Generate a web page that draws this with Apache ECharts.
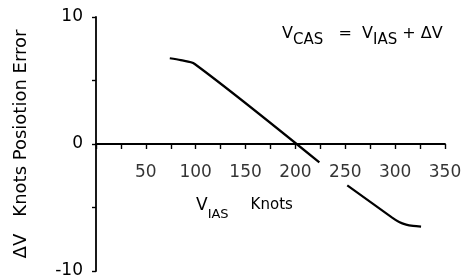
<!DOCTYPE html>
<html>
<head>
<meta charset="utf-8">
<script src="https://cdn.jsdelivr.net/npm/echarts@6/dist/echarts.min.js"></script>
<style>
html,body{margin:0;padding:0;background:#fff;}
#chart{width:461px;height:279px;}
</style>
</head>
<body>
<div id="chart"></div>
<script>
// Data
var speedSeg1 = [74, 85, 99, 224];
var errSeg1 = [6.75, 6.6, 6.3, -1.45];
var speedSeg2 = [252, 297, 304, 311, 318, 326];
var errSeg2 = [-3.25, -5.8, -6.15, -6.35, -6.45, -6.5];
var xTicks = [50, 100, 150, 200, 250, 300, 350];
var yTickLabels = [-10, 0, 10];

function pairs(xs, ys) { return xs.map(function (x, i) { return [x, ys[i]]; }); }

var FONT = 'DejaVu Sans';
var chart = echarts.init(document.getElementById('chart'), null, { renderer: 'canvas' });
chart.setOption({
  animation: false,
  backgroundColor: '#fff',
  grid: { left: 96, right: 16, top: 17, bottom: 8, containLabel: false, outerBoundsMode: 'none' },
  xAxis: {
    type: 'value', min: 0, max: 350, interval: 25,
    axisLine: { onZero: true, lineStyle: { color: '#000', width: 1.8 } },
    axisTick: { show: true, length: 5, lineStyle: { color: '#000', width: 1.4 } },
    axisLabel: { show: false },
    splitLine: { show: false }
  },
  yAxis: {
    type: 'value', min: -10, max: 10, interval: 5,
    axisLine: { show: true, onZero: false, lineStyle: { color: '#000', width: 1.8 } },
    axisTick: { show: true, length: 4, lineStyle: { color: '#000', width: 1.4 } },
    axisLabel: {
      margin: 13, color: '#000', fontFamily: FONT, fontSize: 17,
      formatter: function (v) { return yTickLabels.indexOf(v) >= 0 ? String(v) : ''; }
    },
    splitLine: { show: false },
    name: '\u0394V   Knots Posiotion Error',
    nameLocation: 'middle', nameGap: 66, nameRotate: 90,
    nameTextStyle: { color: '#000', fontFamily: FONT, fontSize: 18 }
  },
  series: [
    { type: 'line', data: pairs(speedSeg1, errSeg1), showSymbol: false, smooth: 0.3,
      lineStyle: { color: '#000', width: 2.2 } },
    { type: 'line', data: pairs(speedSeg2, errSeg2), showSymbol: false, smooth: 0.3,
      lineStyle: { color: '#000', width: 2.2 } },
    { type: 'scatter', silent: true, symbolSize: 0,
      data: xTicks.map(function (v) { return [v, 0]; }),
      label: { show: true, position: 'bottom', distance: 20, color: '#000',
        fontFamily: FONT, fontSize: 17,
        formatter: function (p) { return String(p.value[0]); } } }
  ],
  graphic: [
    { type: 'text', left: 196, top: 197,
      style: {
        text: '{v|V}{s|IAS}{k|Knots}',
        rich: {
          v: { fontFamily: FONT, fontSize: 17, fill: '#000', lineHeight: 24, verticalAlign: 'top' },
          s: { fontFamily: FONT, fontSize: 13, fill: '#000', lineHeight: 24, verticalAlign: 'bottom' },
          k: { fontFamily: FONT, fontSize: 15, fill: '#000', lineHeight: 24, verticalAlign: 'top', padding: [1, 0, 0, 22] }
        }
      } },
    { type: 'text', left: 282, top: 26,
      style: {
        text: '{v|V}{s|CAS}{v|   =  V}{s|IAS}{v| + \u0394V}',
        rich: {
          v: { fontFamily: FONT, fontSize: 16, fill: '#000', lineHeight: 22, verticalAlign: 'top' },
          s: { fontFamily: FONT, fontSize: 15, fill: '#000', lineHeight: 22, verticalAlign: 'bottom' }
        }
      } }
  ]
});
</script>
</body>
</html>
